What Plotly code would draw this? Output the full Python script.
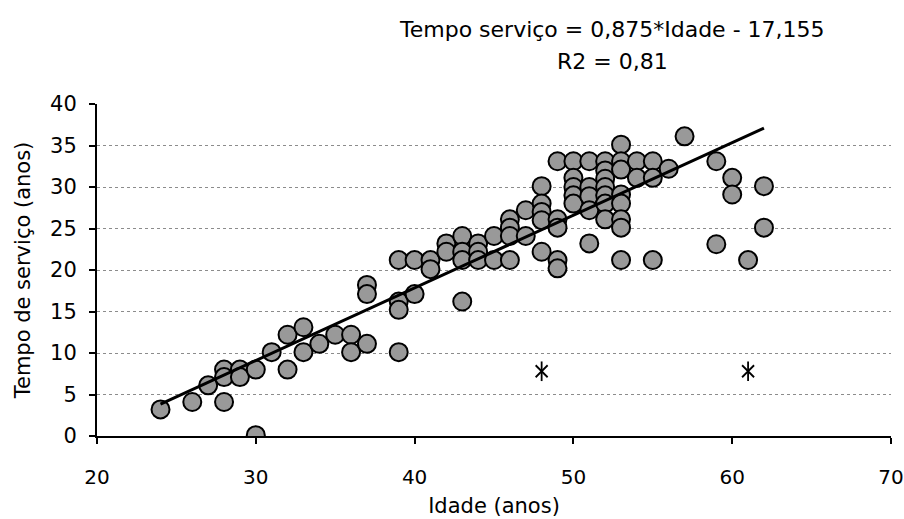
import plotly.graph_objects as go

# Age (anos) and years of service for each employee, grouped by age
idade_grupos = [24, 26, 27, 28, 29, 30, 31, 32, 33, 34, 35, 36, 37, 39, 40, 41, 42, 43,
                44, 45, 46, 47, 48, 49, 50, 51, 52, 53, 54, 55, 56, 57, 59, 60, 61, 62]
tempo_grupos = [
    [3.2], [4.1], [6.1], [8.0, 7.1, 4.1], [8.0, 7.1], [8.0, 0.1], [10.1], [12.2, 8.0],
    [13.1, 10.1], [11.1], [12.2], [12.2, 10.1], [18.2, 17.1, 11.1],
    [21.2, 16.2, 15.2, 10.1], [21.2, 17.1], [21.2, 20.1], [23.2, 22.2],
    [24.1, 22.2, 21.2, 16.2], [23.2, 22.2, 21.2], [24.1, 21.2], [26.1, 25.1, 24.1, 21.2],
    [27.2, 24.1], [30.1, 28.0, 27.0, 26.0, 22.2], [33.1, 26.1, 25.1, 21.2, 20.2],
    [33.1, 31.1, 30.0, 29.0, 28.0], [33.1, 30.0, 28.9, 27.2, 23.2],
    [33.1, 32.0, 31.0, 30.0, 29.0, 28.0, 26.1],
    [35.1, 33.1, 32.1, 29.1, 28.0, 26.1, 25.1, 21.2],
    [33.1, 31.1], [33.1, 31.1, 21.2], [32.2], [36.1], [33.1, 23.1], [31.1, 29.1],
    [21.2], [30.1, 25.1],
]

# Outliers drawn with an asterisk
outlier_idade = [48, 61]
outlier_tempo = [7.8, 7.8]

# Regression line: Tempo = 0.875*Idade - 17.155
coef_a = 0.875
coef_b = -17.155
linha_idade = [24, 62]

x_ticks = [20, 30, 40, 50, 60, 70]
y_ticks = [0, 5, 10, 15, 20, 25, 30, 35, 40]

idade = []
tempo = []
for a, grupo in zip(idade_grupos, tempo_grupos):
    for t in grupo:
        idade.append(a)
        tempo.append(t)

linha_tempo = [coef_a * v + coef_b for v in linha_idade]

FONT = "'DejaVu Sans', sans-serif"
FS = 21

fig = go.Figure()

fig.add_trace(go.Scatter(
    x=idade, y=tempo, mode="markers",
    marker=dict(size=18, color="#999999", line=dict(color="black", width=2)),
    showlegend=False, hoverinfo="x+y",
))

fig.add_trace(go.Scatter(
    x=linha_idade, y=linha_tempo, mode="lines",
    line=dict(color="black", width=3),
    showlegend=False, hoverinfo="skip",
))

# Asterisk = X plus vertical stroke
fig.add_trace(go.Scatter(
    x=outlier_idade, y=outlier_tempo, mode="markers",
    marker=dict(symbol="x-thin-open", size=12, color="black",
                line=dict(color="black", width=1.8)),
    showlegend=False, hoverinfo="x+y",
))
fig.add_trace(go.Scatter(
    x=outlier_idade, y=outlier_tempo, mode="markers",
    marker=dict(symbol="line-ns-open", size=14, color="black",
                line=dict(color="black", width=1.8)),
    showlegend=False, hoverinfo="skip",
))

fig.update_layout(
    width=904, height=519,
    margin=dict(l=97, r=13, t=104, b=83),
    paper_bgcolor="white", plot_bgcolor="white",
    font=dict(family=FONT, size=FS, color="black"),
    xaxis=dict(
        range=[20, 70], tickvals=x_ticks, ticks="outside", ticklen=6, tickwidth=2,
        tickcolor="black", showline=True, linecolor="black", linewidth=2,
        showgrid=False, zeroline=False, tickfont=dict(size=20),
        ticklabelstandoff=16, automargin=False,
        title=dict(text="Idade (anos)", font=dict(size=FS), standoff=10),
    ),
    yaxis=dict(
        range=[0, 40], tickvals=y_ticks, ticks="outside", ticklen=6, tickwidth=2,
        tickcolor="black", showline=True, linecolor="black", linewidth=2,
        showgrid=True, gridcolor="#8c8c8c", gridwidth=1, griddash="dot",
        zeroline=False, tickfont=dict(size=FS), ticklabelstandoff=8,
        automargin=False,
        title=dict(text="Tempo de serviço (anos)", font=dict(size=FS), standoff=14),
    ),
    annotations=[
        dict(text="Tempo serviço = 0,875*Idade - 17,155", xref="paper", yref="paper",
             x=0.649, y=1.223, showarrow=False, font=dict(size=22),
             xanchor="center", yanchor="middle"),
        dict(text="R2 = 0,81", xref="paper", yref="paper",
             x=0.649, y=1.127, showarrow=False, font=dict(size=22),
             xanchor="center", yanchor="middle"),
    ],
)

fig.write_html("out.html")
